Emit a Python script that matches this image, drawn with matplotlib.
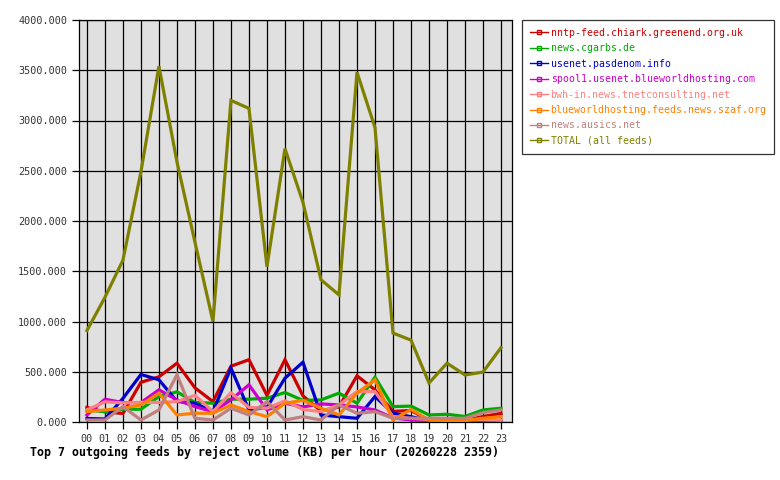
import matplotlib
matplotlib.use('Agg')
import matplotlib.pyplot as plt

hours = ['00', '01', '02', '03', '04', '05', '06', '07', '08', '09', '10', '11',
         '12', '13', '14', '15', '16', '17', '18', '19', '20', '21', '22', '23']

# reject volume (KB) per hour
chiark  = [145, 100, 85, 395, 450, 585, 340, 203, 555, 620, 265, 620,
           260, 110, 150, 460, 320, 105, 115, 15, 10, 15, 55, 85]
cgarbs  = [120, 103, 127, 127, 253, 300, 195, 187, 227, 227, 237, 293,
           215, 220, 287, 187, 446, 153, 158, 70, 77, 55, 120, 137]
pasdenom = [35, 30, 235, 473, 420, 205, 187, 103, 536, 120, 145, 436,
            595, 70, 53, 37, 253, 87, 53, 12, 10, 10, 10, 13]
spool1  = [70, 227, 193, 193, 320, 220, 153, 103, 220, 370, 120, 187,
           150, 180, 170, 150, 120, 40, 20, 8, 30, 8, 8, 10]
bwh_in  = [120, 200, 190, 195, 195, 203, 265, 103, 290, 145, 137, 210,
           125, 103, 170, 303, 303, 53, 37, 25, 25, 25, 25, 20]
szaf    = [103, 120, 137, 170, 287, 70, 87, 87, 170, 103, 53, 187,
           215, 137, 70, 287, 420, 20, 125, 20, 15, 15, 37, 53]
ausics  = [20, 20, 153, 20, 120, 470, 37, 20, 137, 70, 203, 20,
           53, 20, 170, 87, 103, 37, 37, 37, 37, 37, 93, 120]
total   = [910, 1240, 1610, 2490, 3540, 2590, 1790, 1000, 3200, 3120, 1545, 2720,
           2185, 1415, 1265, 3480, 2930, 885, 815, 388, 585, 468, 497, 740]

series = [
    ('nntp-feed.chiark.greenend.org.uk', chiark, '#cc0000'),
    ('news.cgarbs.de', cgarbs, '#00aa00'),
    ('usenet.pasdenom.info', pasdenom, '#0000cc'),
    ('spool1.usenet.blueworldhosting.com', spool1, '#cc00cc'),
    ('bwh-in.news.tnetconsulting.net', bwh_in, '#ff8080'),
    ('blueworldhosting.feeds.news.szaf.org', szaf, '#ff8000'),
    ('news.ausics.net', ausics, '#c08080'),
    ('TOTAL (all feeds)', total, '#808000'),
]

plt.rcParams['font.family'] = ['DejaVu Sans Mono']

fig = plt.figure(figsize=(7.8, 4.8), dpi=100)
fig.patch.set_facecolor('white')
ax = fig.add_axes([79/780, 58/480, 433/780, 402/480])
ax.set_facecolor('#e0e0e0')

x = list(range(len(hours)))
for name, vals, col in series:
    ax.plot(x, vals, color=col, linewidth=2.3, label=name,
            solid_joinstyle='miter', zorder=3)

ax.set_xlim(-0.44, 23.61)
ax.set_ylim(0, 4000)
ax.set_xticks(x)
ax.set_xticklabels(hours)
yt = list(range(0, 4001, 500))
ax.set_yticks(yt)
ax.set_yticklabels(['%.3f' % v for v in yt])
ax.grid(True, color='black', linewidth=0.9, zorder=1)
ax.set_axisbelow(True)
ax.tick_params(axis='both', direction='out', length=5, width=0.9,
               labelsize=7.3, colors='black', labelcolor='#333333')
for s in ax.spines.values():
    s.set_color('black')
    s.set_linewidth(0.9)

leg = fig.legend(loc='upper left', bbox_to_anchor=(522/780, 1 - 20/480),
                 prop={'size': 7.1}, frameon=True, fancybox=False,
                 handlelength=1.8, handletextpad=0.3, borderpad=0.8,
                 labelspacing=0.55, borderaxespad=0)
leg.get_frame().set_edgecolor('black')
leg.get_frame().set_linewidth(0.9)
for line, text in zip(leg.get_lines(), leg.get_texts()):
    line.set_linewidth(1.0)
    line.set_marker('s')
    line.set_markersize(2.5)
    line.set_markerfacecolor('none')
    line.set_markevery([1])
    text.set_color(line.get_color())

fig.text(30/780, 1 - 452/480,
         'Top 7 outgoing feeds by reject volume (KB) per hour (20260228 2359)',
         fontsize=8.4, fontweight='bold', ha='left', va='center')

fig.savefig('out.png', dpi=100)
